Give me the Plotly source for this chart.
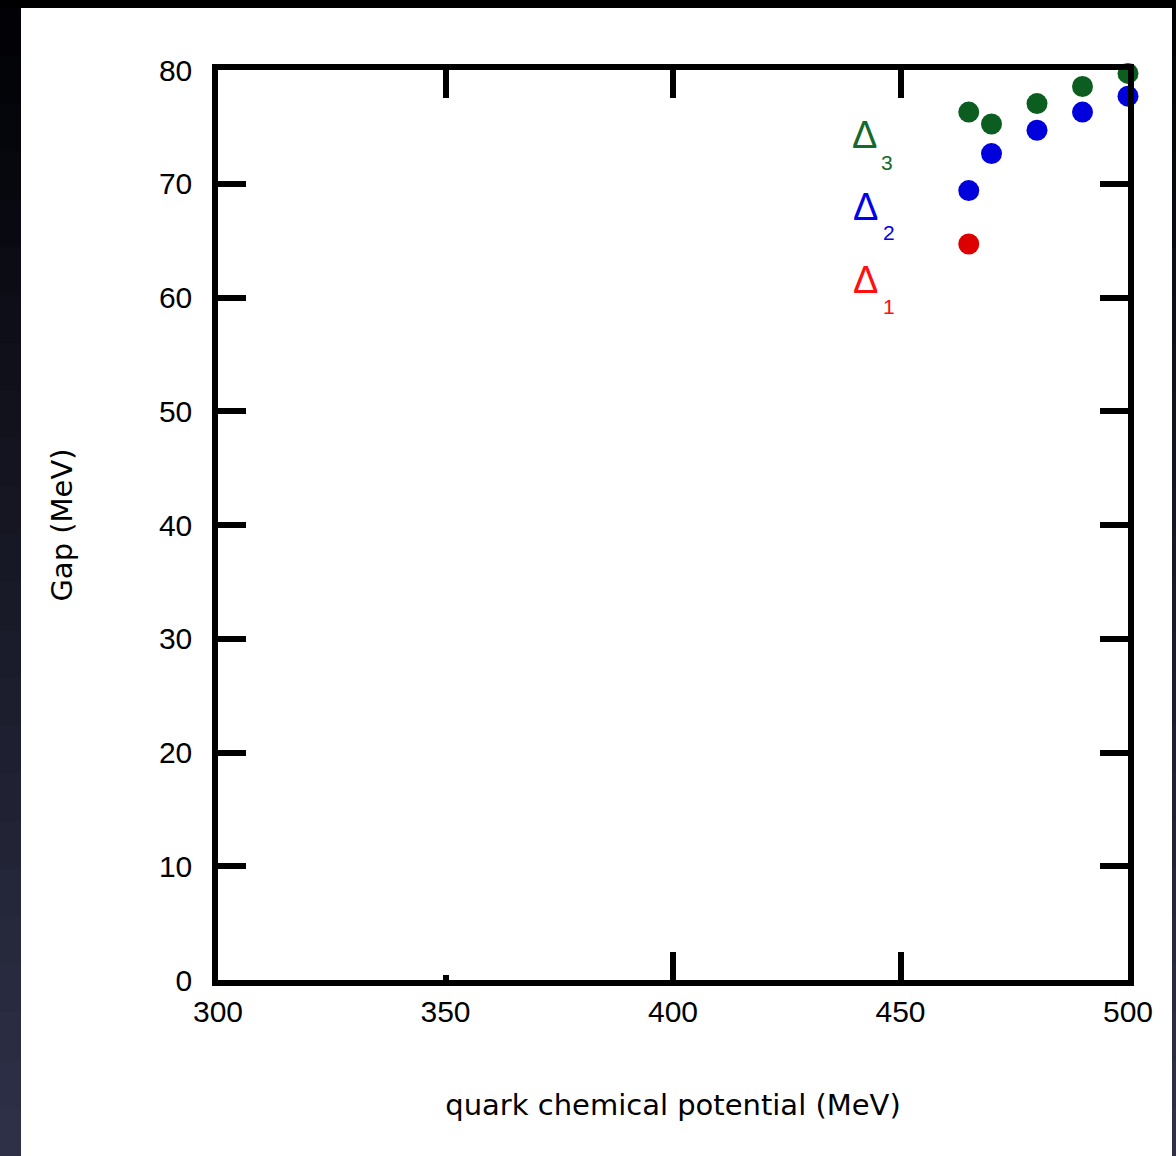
import plotly.graph_objects as go

# Gap values (MeV) versus quark chemical potential (MeV)
mu_delta3 = [465, 470, 480, 490, 500]
gap_delta3 = [76.3, 75.25, 77.05, 78.55, 79.7]

mu_delta2 = [465, 470, 480, 490, 500]
gap_delta2 = [69.4, 72.65, 74.7, 76.3, 77.7]

mu_delta1 = [465]
gap_delta1 = [64.7]

x_ticks = [300, 350, 400, 450, 500]
y_ticks = [0, 10, 20, 30, 40, 50, 60, 70, 80]

W, H = 1176, 1156
L, R, T, B = 218, 48, 70, 176
PW, PH = W - L - R, H - T - B

GREEN_MK, BLUE_MK, RED_MK = "#0b5e1f", "#0000dd", "#dd0000"
GREEN_TX, BLUE_TX, RED_TX = "#14692b", "#0000ee", "#ff1010"
FRAME_W = 5.5


def px_x(px):
    return (px - L) / PW


def px_y(py):
    return 1 - (py - T) / PH


fig = go.Figure()
for xs, ys, col, name in [
    (mu_delta3, gap_delta3, GREEN_MK, "Δ3"),
    (mu_delta2, gap_delta2, BLUE_MK, "Δ2"),
    (mu_delta1, gap_delta1, RED_MK, "Δ1"),
]:
    fig.add_trace(go.Scatter(
        x=xs, y=ys, mode="markers", name=name, cliponaxis=False,
        marker=dict(size=21, color=col, line=dict(width=0)),
    ))

# invisible helpers so the overlay tick axes get drawn
fig.add_trace(go.Scatter(x=[None], y=[None], xaxis="x2", yaxis="y",
                         showlegend=False, hoverinfo="skip"))
fig.add_trace(go.Scatter(x=[None], y=[None], xaxis="x3", yaxis="y",
                         showlegend=False, hoverinfo="skip"))

tick_font = dict(family="Liberation Sans, Arial, sans-serif", size=30, color="black")
title_font = dict(family="DejaVu Sans, sans-serif", size=29, color="black")

fig.update_layout(
    width=W, height=H,
    margin=dict(l=L, r=R, t=T, b=B),
    paper_bgcolor="white", plot_bgcolor="white",
    showlegend=False,
    xaxis=dict(
        range=[300, 500], tickvals=x_ticks, ticks="",
        showline=True, linewidth=FRAME_W, linecolor="black", mirror=True,
        showgrid=False, zeroline=False, tickfont=tick_font,
        ticklabelstandoff=0,
        title=dict(text="quark chemical potential (MeV)", font=title_font, standoff=70),
    ),
    xaxis2=dict(
        overlaying="x", anchor="y", side="bottom", range=[300, 500],
        tickvals=[400, 450], ticks="inside", ticklen=28, tickwidth=FRAME_W, tickcolor="black",
        minor=dict(tickvals=[350], ticks="inside", ticklen=5, tickwidth=FRAME_W, tickcolor="black"),
        showticklabels=False, showline=False, showgrid=False, zeroline=False,
    ),
    xaxis3=dict(
        overlaying="x", anchor="y", side="top", range=[300, 500],
        tickvals=[350, 400, 450], ticks="inside", ticklen=28, tickwidth=FRAME_W, tickcolor="black",
        showticklabels=False, showline=False, showgrid=False, zeroline=False,
    ),
    yaxis=dict(
        range=[0, 80], tickvals=y_ticks, ticks="inside", ticklen=28, tickwidth=FRAME_W,
        tickcolor="black", showline=True, linewidth=FRAME_W, linecolor="black", mirror="ticks",
        showgrid=False, zeroline=False, tickfont=tick_font, ticklabelstandoff=14,
        title=dict(text="Gap (MeV)", font=title_font, standoff=80),
    ),
)

# dark frame around the white page
bands = 24
for i in range(bands):
    t = i / (bands - 1)
    r = int(2 + t * (46 - 2))
    g = int(2 + t * (48 - 2))
    b = int(6 + t * (72 - 6))
    y0 = 8 + i * (H - 8) / bands
    y1 = 8 + (i + 1) * (H - 8) / bands
    for xa, xb in [(0, 21), (1172, W)]:
        fig.add_shape(type="rect", xref="paper", yref="paper", layer="above",
                      x0=px_x(xa), x1=px_x(xb), y0=px_y(min(y1 + 3, H)), y1=px_y(y0),
                      fillcolor=f"rgb({r},{g},{b})", line=dict(width=0))
fig.add_shape(type="rect", xref="paper", yref="paper", layer="above",
              x0=px_x(0), x1=px_x(W), y0=px_y(8), y1=px_y(0),
              fillcolor="black", line=dict(width=0))

# series labels
labels = [
    ("3", GREEN_TX, 442.0, 74.3, 447.1, 71.9),
    ("2", BLUE_TX, 442.4, 68.0, 447.5, 65.7),
    ("1", RED_TX, 442.4, 61.5, 447.5, 59.2),
]
for sub, col, xd, yd, xs, ys in labels:
    fig.add_annotation(x=xd, y=yd, text="Δ", showarrow=False,
                       font=dict(family="Liberation Sans, Arial, sans-serif", size=38, color=col))
    fig.add_annotation(x=xs, y=ys, text=sub, showarrow=False,
                       font=dict(family="Liberation Sans, Arial, sans-serif", size=21, color=col))

fig.write_html("out.html")
